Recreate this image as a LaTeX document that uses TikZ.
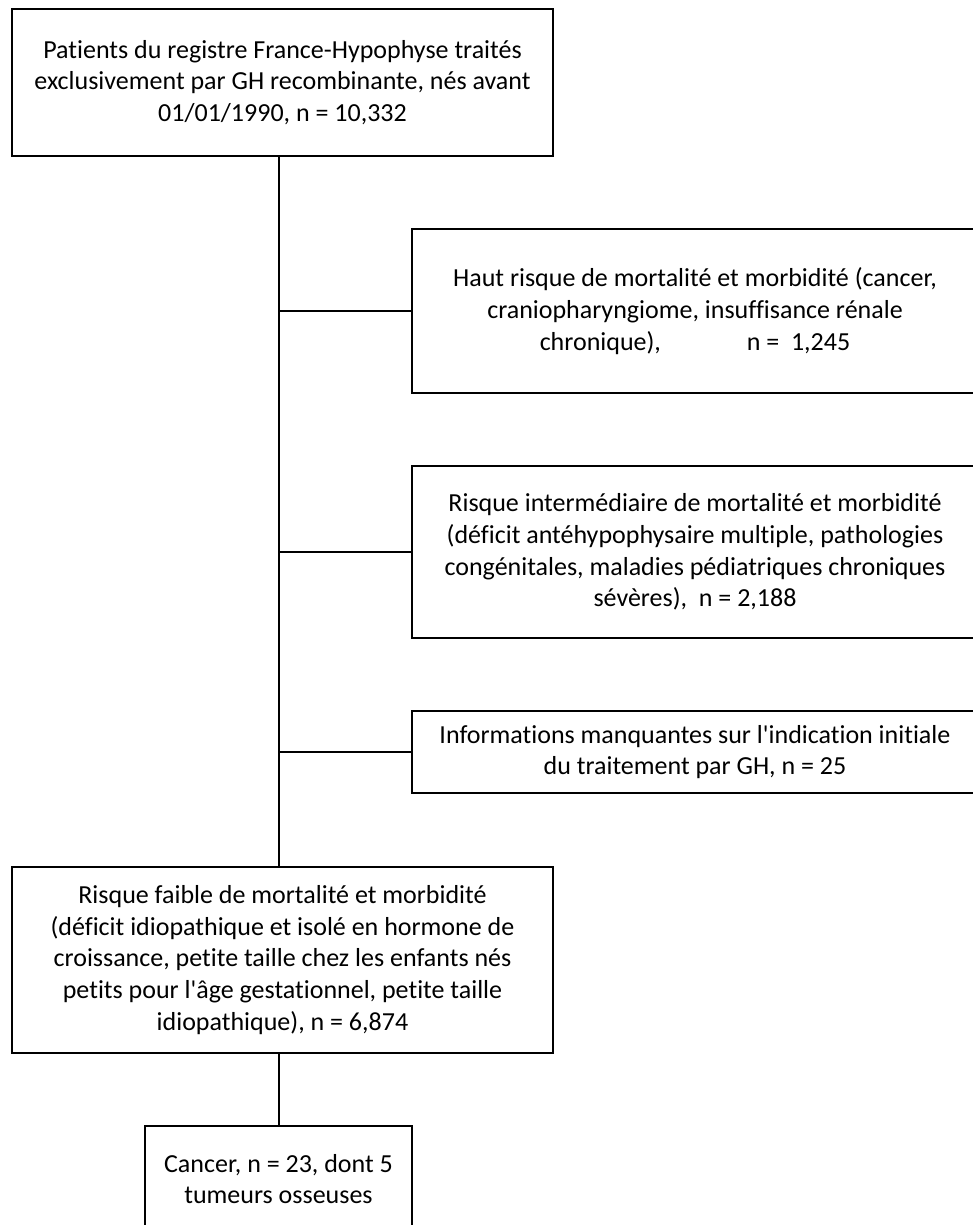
\documentclass[tikz,border=0pt]{standalone}
\usepackage{fontspec}
\setmainfont{Carlito}[Ligatures={TeXOff,CommonOff}]
\begin{document}
\begin{tikzpicture}[x=0.75pt,y=-0.75pt,
  box/.style={draw=black,line width=1.5pt,inner sep=0pt,outer sep=0pt,align=center,
    font=\fontsize{19.5pt}{23.8pt}\selectfont},
  wide/.style={box,minimum width=405.75pt},
  side/.style={box,minimum width=424.5pt},
  link/.style={draw=black,line width=1.5pt}]
\useasboundingbox (0,0) rectangle (973,1225);
\fill[white] (0,0) rectangle (973,1225);
\coordinate (spine) at (279,0);
\node[wide,minimum height=110.25pt] (top) at (282.5,82.5)
  {Patients du registre France-Hypophyse traités\\exclusivement par GH recombinante, nés avant\\01/01/1990, n = 10,332};
\node[side,minimum height=123pt] (haut) at (695,311)
  {Haut risque de mortalité et morbidité (cancer,\\craniopharyngiome, insuffisance rénale\\chronique),\hspace{3.3em}n =\ \ 1,245};
\node[side,minimum height=129pt] (inter) at (695,552)
  {Risque intermédiaire de mortalité et morbidité\\(déficit antéhypophysaire multiple, pathologies\\congénitales, maladies pédiatriques chroniques\\sévères),\ \ n = 2,188};
\node[side,minimum height=61.5pt] (info) at (695,752)
  {Informations manquantes sur l'indication initiale\\du traitement par GH, n = 25};
\node[wide,minimum height=139.5pt] (faible) at (282.5,960)
  {Risque faible de mortalité et morbidité\\(déficit idiopathique et isolé en hormone de\\croissance, petite taille chez les enfants nés\\petits pour l'âge gestationnel, petite taille\\idiopathique), n = 6,874};
\node[box,minimum width=200.25pt,minimum height=79.5pt] (cancer) at (278.5,1179)
  {Cancer, n = 23, dont 5\\tumeurs osseuses};
\draw[link] (top.south -| spine) -- (faible.north -| spine);
\draw[link] (haut.west) -- (haut.west -| spine);
\draw[link] (inter.west) -- (inter.west -| spine);
\draw[link] (info.west) -- (info.west -| spine);
\draw[link] (faible.south -| spine) -- (cancer.north -| spine);
\end{tikzpicture}
\end{document}
